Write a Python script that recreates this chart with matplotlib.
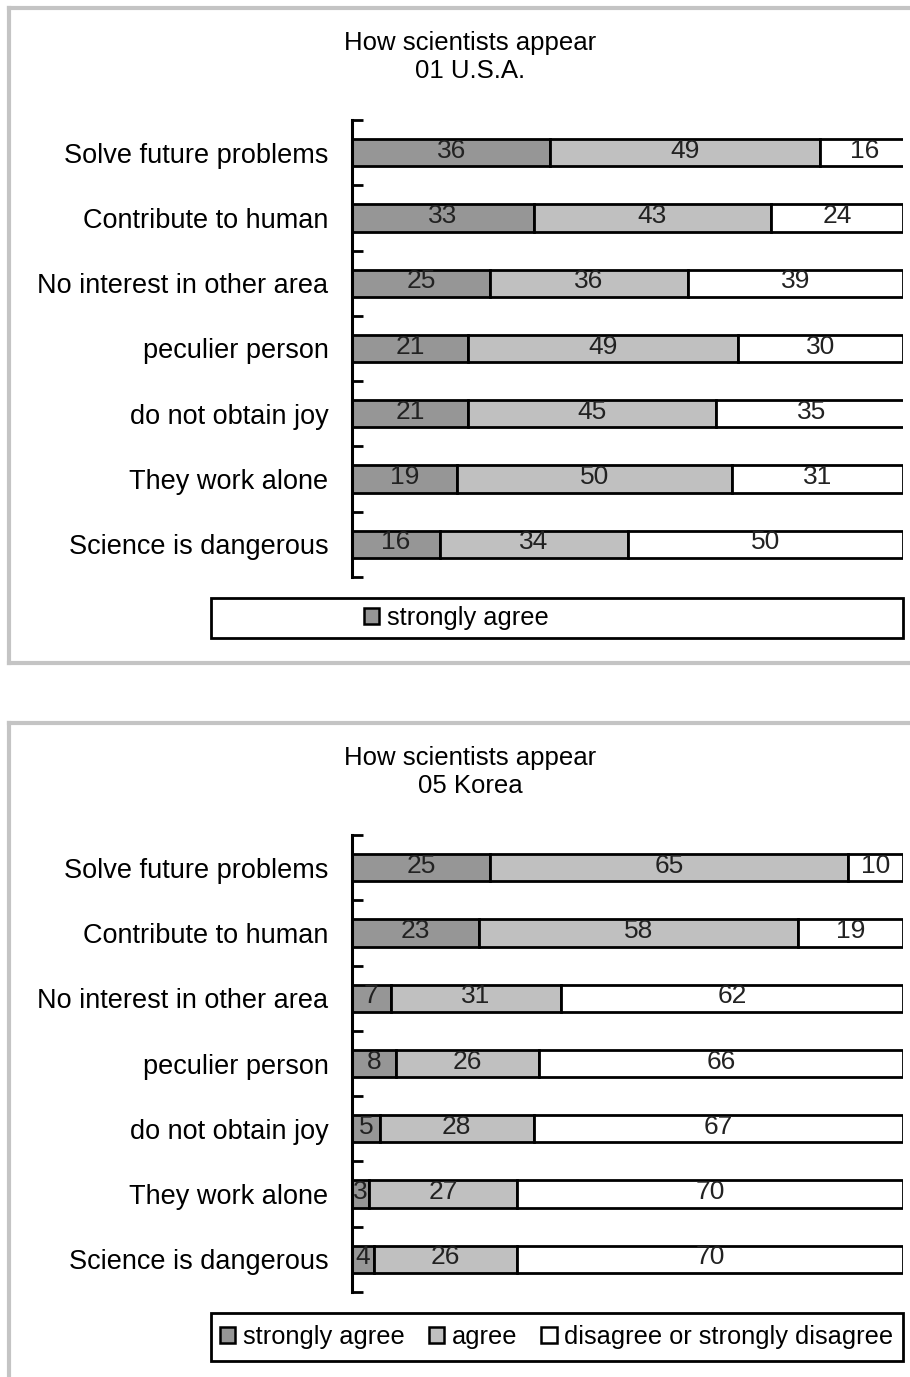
import numpy as np
import matplotlib
matplotlib.use("Agg")
import matplotlib.pyplot as plt
from matplotlib.patches import Patch, Rectangle
from matplotlib.lines import Line2D

#
# survey data (percent of respondents)
#
items = ["Solve future problems", "Contribute to human", "No interest in other area",
         "peculier person", "do not obtain joy", "They work alone", "Science is dangerous"]
series = ["strongly agree", "agree", "disagree or strongly disagree"]
colors = ["#969696", "#c0c0c0", "#ffffff"]

usa_strong = [36, 33, 25, 21, 21, 19, 16]
usa_agree = [49, 43, 36, 49, 45, 50, 34]
usa_disagree = [16, 24, 39, 30, 35, 31, 50]

kor_strong = [25, 23, 7, 8, 5, 3, 4]
kor_agree = [65, 58, 31, 26, 28, 27, 26]
kor_disagree = [10, 19, 62, 66, 67, 70, 70]

W, H = 910, 1377
fig = plt.figure(figsize=(W / 100, H / 100), dpi=100)
plt.rcParams['font.family'] = ['Liberation Sans', 'DejaVu Sans']


def px(x, y):
    return x / W, 1 - y / H


def panel_frame(top, bottom):
    # light grey border round each chart, open on the right side
    kw = dict(color="#c4c4c4", lw=3, transform=fig.transFigure)
    x0, y0 = px(9, top)
    x1, y1 = px(912, bottom)
    fig.add_artist(Line2D([x0, x1], [y0, y0], **kw))
    fig.add_artist(Line2D([x0, x0], [y0, y1], **kw))
    if bottom < H:
        fig.add_artist(Line2D([x0, x1], [y1, y1], **kw))


def draw_chart(title, top, values, legend_top, legend_bottom, legend_items, legend_x):
    ax_top, ax_bot = top + 112, top + 569
    l, t = px(352, ax_top)
    r, b = px(903, ax_bot)
    ax = fig.add_axes([l, b, r - l, t - b])

    y = np.arange(len(items))
    left = np.zeros(len(items))
    for vals, c in zip(values, colors):
        vals = np.array(vals, dtype=float)
        ax.barh(y, vals, left=left, height=0.42, color=c, edgecolor="black", linewidth=2)
        for yi, xi, v in zip(y, left, vals):
            ax.text(xi + v / 2, yi - 0.03, f"{int(v)}", ha="center", va="center",
                    fontsize=19, color="#222222")
        left += vals

    ax.set_xlim(0, 100)
    ax.set_ylim(len(items) - 0.5, -0.5)
    for s in ["top", "right", "bottom"]:
        ax.spines[s].set_visible(False)
    ax.spines["left"].set_linewidth(2.2)
    ax.set_xticks([])
    ax.set_yticks(np.arange(-0.5, len(items)), labels=[])
    ax.tick_params(axis="y", which="major", direction="in", length=8, width=2)
    ax.set_yticks(y, labels=items, minor=True)
    ax.tick_params(axis="y", which="minor", length=0, pad=17, labelsize=19.5)
    ax.set_facecolor("none")

    cx, cy = px(470, top + 49)
    fig.text(cx, cy, title, ha="center", va="center", fontsize=18.5, linespacing=1.2)

    # legend box
    lx0, ly0 = px(211, legend_bottom)
    lx1, ly1 = px(903, legend_top)
    fig.add_artist(Rectangle((lx0, ly0), lx1 - lx0, ly1 - ly0, transform=fig.transFigure,
                             facecolor="white", edgecolor="black", lw=2))
    handles = [Patch(facecolor=colors[i], edgecolor="black", linewidth=1.8) for i in legend_items]
    labels = [series[i] for i in legend_items]
    hx, hy = px(legend_x, (legend_top + legend_bottom) / 2)
    fig.legend(handles, labels, loc="center left", bbox_to_anchor=(hx, hy),
               ncol=len(handles), frameon=False, fontsize=18.3,
               handlelength=0.6, handleheight=0.6, handletextpad=0.3,
               columnspacing=0.95, borderpad=0, borderaxespad=0)
    return ax


panel_frame(8, 663)
draw_chart("How scientists appear\n01 U.S.A.", 8,
           [usa_strong, usa_agree, usa_disagree], 598, 638, [0], 364)

panel_frame(723, H + 5)
draw_chart("How scientists appear\n05 Korea", 723,
           [kor_strong, kor_agree, kor_disagree], 1313, 1361, [0, 1, 2], 220)

plt.savefig("out.png", dpi=100)
